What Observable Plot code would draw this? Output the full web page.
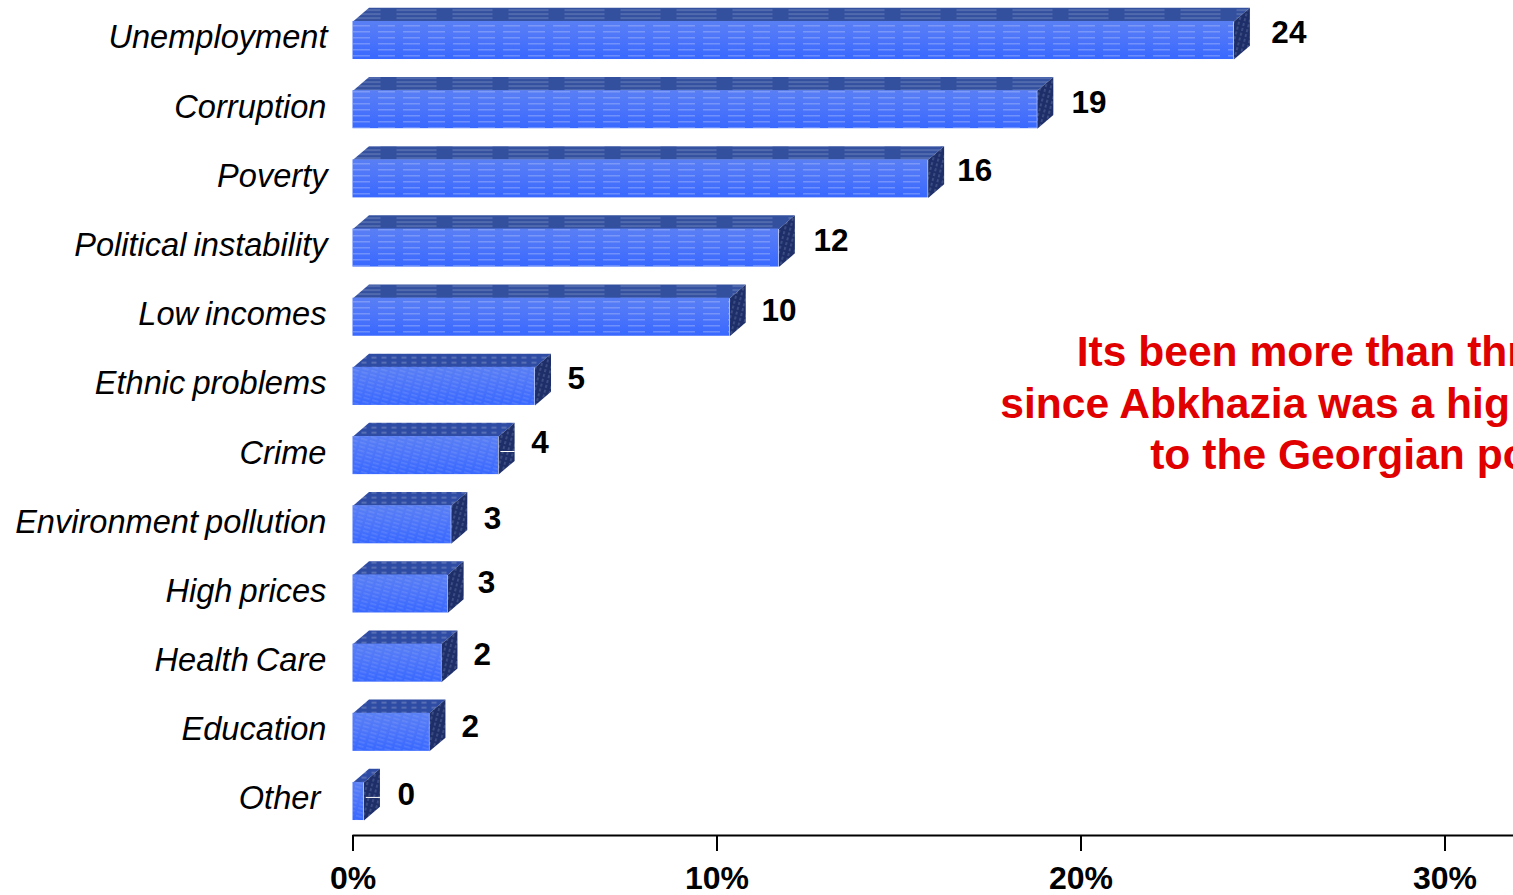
<!DOCTYPE html>
<html><head><meta charset="utf-8">
<script src="https://cdn.jsdelivr.net/npm/d3@7"></script>
<script src="https://cdn.jsdelivr.net/npm/@observablehq/plot@0.6"></script>
<style>html,body{margin:0;padding:0;background:#fff;overflow:hidden}svg{display:block}.catlabels{word-spacing:-2px}</style>
</head><body>
<svg width="0" height="0" style="position:absolute">
<defs>
<linearGradient id="frontGrad" x1="0" y1="0" x2="0" y2="1">
<stop offset="0" stop-color="#5a7ff4"/><stop offset="0.5" stop-color="#4b74fa"/><stop offset="1" stop-color="#3868ff"/>
</linearGradient>
<pattern id="frontH" width="25" height="6" patternUnits="userSpaceOnUse">
<rect x="3" y="1" width="17" height="1.5" fill="#b4c4fa" fill-opacity="0.4"/>
</pattern>
<pattern id="frontD" width="9" height="4" patternUnits="userSpaceOnUse" patternTransform="rotate(16)">
<rect x="0" y="1.4" width="6.5" height="1" fill="#b4c4fa" fill-opacity="0.3"/>
</pattern>
<pattern id="topH" width="56" height="4" patternUnits="userSpaceOnUse">
<rect width="56" height="4" fill="#33509f"/>
<rect x="4" y="1" width="40" height="1.1" fill="#8b9cc8" fill-opacity="0.6"/>
</pattern>
<pattern id="topD" width="10" height="5" patternUnits="userSpaceOnUse">
<rect width="10" height="5" fill="#2f4ca4"/>
<rect x="1" y="1.5" width="5" height="1.4" fill="#7688bf" fill-opacity="0.8"/>
</pattern>
<pattern id="side" width="5" height="5" patternUnits="userSpaceOnUse" patternTransform="rotate(15)">
<rect width="5" height="5" fill="#1e2e68"/>
<rect x="1.5" y="0" width="0.9" height="3" fill="#6d7fb0" fill-opacity="0.8"/>
</pattern>
</defs>
</svg>
<script>
const categories = ["Unemployment","Corruption","Poverty","Political instability","Low incomes","Ethnic problems","Crime","Environment pollution","High prices","Health Care","Education","Other"];
const barValues = [24.2,18.8,15.8,11.7,10.35,5.0,4.0,2.7,2.6,2.43,2.1,0.3];
const valueLabels = ["24","19","16","12","10","5","4","3","3","2","2","0"];
const valueLabelX = [25.23,19.74,16.6,12.65,11.22,5.89,4.9,3.59,3.43,3.31,2.98,1.22];
const valueLabelRow = [-0.116,0.896,1.879,2.89,3.905,4.89,5.81,6.908,7.84,8.88,9.92,10.905];
const categoryLabelX = [-0.7,-0.73,-0.7,-0.7,-0.73,-0.73,-0.73,-0.73,-0.73,-0.73,-0.73,-0.9];
const leaderRows = [6,11];
const noteLines = ["Its been more than thr","since Abkhazia was a hig","to the Georgian po"];
const noteX = [19.88,17.78,21.9];
const noteRow = [4.515,5.255,5.99];
const axisTicks = [0,10,20,30];

const half = 0.275, depthX = 0.44, depthY = 0.198;
const bars = categories.map((c,i)=>({c,i,v:barValues[i]}));
const topFaces = bars.flatMap(d=>[[0,d.i-half],[d.v,d.i-half],[d.v+depthX,d.i-half-depthY],[depthX,d.i-half-depthY]].map(p=>({k:d.c,v:d.v,x:p[0],y:p[1]})));
const sideFaces = bars.flatMap(d=>[[d.v,d.i-half],[d.v+depthX,d.i-half-depthY],[d.v+depthX,d.i+half-depthY],[d.v,d.i+half]].map(p=>({k:d.c,x:p[0],y:p[1]})));
const xMax = (1513-352.5)/36.4;

const chart = Plot.plot({
  width:1513, height:895,
  marginLeft:352.5, marginRight:0, marginTop:0, marginBottom:60,
  style:{fontFamily:"'Liberation Sans',Arial,sans-serif",background:"#fff",color:"#000"},
  x:{domain:[0,xMax],label:null},
  y:{domain:[0,11],range:[40,801],axis:null,label:null},
  marks:[
    Plot.line(topFaces.filter(d=>d.v>=10),{x:"x",y:"y",z:"k",fill:"url(#topH)",stroke:"none"}),
    Plot.line(topFaces.filter(d=>d.v<10),{x:"x",y:"y",z:"k",fill:"url(#topD)",stroke:"none"}),
    Plot.line(sideFaces,{x:"x",y:"y",z:"k",fill:"url(#side)",stroke:"none"}),
    Plot.rect(bars,{x1:0,x2:"v",y1:d=>d.i-half,y2:d=>d.i+half,fill:"url(#frontGrad)"}),
    Plot.rect(bars.filter(d=>d.v>=10),{x1:0,x2:"v",y1:d=>d.i-half,y2:d=>d.i+half,fill:"url(#frontH)"}),
    Plot.rect(bars.filter(d=>d.v<10),{x1:0,x2:"v",y1:d=>d.i-half,y2:d=>d.i+half,fill:"url(#frontD)"}),
    Plot.link(leaderRows,{x1:i=>barValues[i]+0.05,x2:i=>barValues[i]+depthX,y1:i=>i+0.04-depthY/2,y2:i=>i+0.04-depthY/2,stroke:"#fff",strokeWidth:1}),
    Plot.text(categories,{x:(d,i)=>categoryLabelX[i],y:(d,i)=>i,text:d=>d,textAnchor:"end",dy:-2.5,fontSize:32.6,fontStyle:"italic",fill:"#000",className:"catlabels"}),
    Plot.text(valueLabels,{x:(d,i)=>valueLabelX[i],y:(d,i)=>valueLabelRow[i],text:d=>d,textAnchor:"start",fontSize:31.5,fontWeight:"bold",fill:"#000"}),
    Plot.text(noteLines,{x:(d,i)=>noteX[i],y:(d,i)=>noteRow[i],text:d=>d,textAnchor:"start",fontSize:42.6,fontWeight:"bold",fill:"#e00000"}),
    Plot.ruleY([11.49],{x1:0,x2:xMax,stroke:"#000",strokeWidth:2}),
    Plot.axisX({ticks:axisTicks,anchor:"bottom",tickSize:16,tickPadding:15,tickFormat:d=>d+"%",fontSize:32,fontWeight:"bold",stroke:"#000",strokeWidth:2,strokeOpacity:1,fill:"#000",label:null})
  ]
});
document.body.appendChild(chart);
</script>
</body></html>
